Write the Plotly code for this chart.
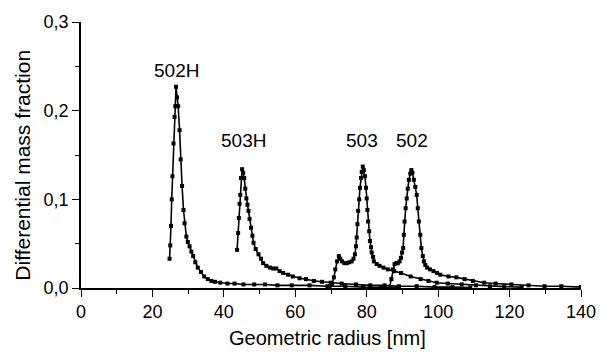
import plotly.graph_objects as go

# ---- data ----
r502H_x = [24.8, 25.0, 25.2, 25.4, 25.6,
           25.9, 26.2, 26.4, 26.6, 26.9,
           27.2, 27.6, 27.9, 28.3, 28.7,
           29.0, 29.5, 29.9, 30.4, 30.9,
           31.4, 32.0, 32.7, 33.6, 34.5,
           35.5, 36.5, 37.5, 39.0, 41.0,
           43.0, 45.5, 48.5, 51.5, 55.0,
           59.0, 64.0, 69.0, 74.0, 79.0,
           84.0, 89.0]
r502H_y = [0.033, 0.048, 0.070, 0.100, 0.126,
           0.163, 0.193, 0.205, 0.227, 0.215,
           0.205, 0.178, 0.145, 0.115, 0.088,
           0.073, 0.058, 0.052, 0.047, 0.041,
           0.036, 0.029, 0.023, 0.018, 0.013,
           0.010, 0.008, 0.007, 0.006, 0.005,
           0.005, 0.004, 0.004, 0.004, 0.003,
           0.003, 0.003, 0.002, 0.002, 0.001,
           0.001, 0.0005]

r503H_x = [43.7, 44.0, 44.2, 44.4, 44.6,
           44.8, 45.1, 45.4, 45.7, 46.0,
           46.3, 46.6, 46.9, 47.2, 47.6,
           48.0, 48.3, 48.9, 49.7, 50.4,
           51.0, 51.9, 52.9, 53.8, 54.7,
           55.6, 56.6, 58.0, 59.3, 61.2,
           63.0, 65.2, 67.5, 69.9, 73.0,
           77.0, 81.0, 85.0, 89.0, 94.0,
           99.0, 104.0, 109.0]
r503H_y = [0.043, 0.062, 0.079, 0.095, 0.105,
           0.124, 0.134, 0.130, 0.124, 0.112,
           0.101, 0.094, 0.087, 0.078, 0.068,
           0.059, 0.051, 0.044, 0.038, 0.033,
           0.028, 0.025, 0.023, 0.022, 0.022,
           0.019, 0.017, 0.015, 0.013, 0.011,
           0.010, 0.008, 0.007, 0.006, 0.005,
           0.004, 0.003, 0.003, 0.002, 0.002,
           0.001, 0.001, 0.0005]

r503_x = [69.6, 70.3, 70.8, 71.2, 71.7,
          72.2, 72.6, 73.1, 73.8, 74.4,
          75.1, 75.8, 76.3, 76.7, 77.0,
          77.2, 77.4, 77.6, 77.9, 78.1,
          78.4, 78.6, 78.9, 79.2, 79.5,
          79.8, 80.0, 80.2, 80.4, 80.7,
          80.9, 81.2, 81.4, 81.8, 82.0,
          82.8, 83.6, 84.7, 85.9, 87.7,
          89.6, 92.3, 95.1, 97.3, 99.6,
          102.7, 106.6, 110.6, 114.5, 118.5,
          123.4]
r503_y = [0.001, 0.004, 0.012, 0.021, 0.030,
          0.036, 0.033, 0.030, 0.028, 0.028,
          0.029, 0.030, 0.033, 0.038, 0.047,
          0.057, 0.072, 0.087, 0.100, 0.113,
          0.124, 0.131, 0.137, 0.133, 0.126,
          0.113, 0.101, 0.088, 0.075, 0.064,
          0.053, 0.046, 0.040, 0.035, 0.030,
          0.027, 0.025, 0.023, 0.021, 0.019,
          0.017, 0.013, 0.010, 0.008, 0.006,
          0.005, 0.004, 0.003, 0.002, 0.0015,
          0.001]

r502_x = [86.4, 86.9, 87.3, 87.8, 88.3,
          88.7, 89.2, 89.6, 89.9, 90.2,
          90.4, 90.6, 90.9, 91.2, 91.5,
          91.8, 92.2, 92.5, 92.8, 93.2,
          93.6, 94.0, 94.3, 94.6, 95.0,
          95.3, 95.7, 96.0, 96.4, 96.9,
          97.7, 98.7, 99.7, 100.6, 102.9,
          105.1, 107.4, 109.7, 112.9, 116.1,
          120.5, 125.3, 129.8, 134.5, 140.0]
r502_y = [0.001, 0.010, 0.021, 0.027, 0.028,
          0.028, 0.030, 0.034, 0.040, 0.045,
          0.060, 0.075, 0.090, 0.101, 0.112,
          0.122, 0.129, 0.133, 0.130, 0.122,
          0.114, 0.105, 0.090, 0.075, 0.060,
          0.045, 0.036, 0.030, 0.026, 0.023,
          0.021, 0.019, 0.017, 0.015, 0.013,
          0.012, 0.010, 0.008, 0.006, 0.005,
          0.004, 0.003, 0.002, 0.002, 0.001]

series_names = ["502H", "503H", "503", "502"]
label_x = [26.7, 45.4, 78.7, 92.7]
label_y = [0.245, 0.166, 0.166, 0.166]

x_tickvals = [0, 20, 40, 60, 80, 100, 120, 140]
y_tickvals = [0.0, 0.1, 0.2, 0.3]
y_ticktext = ["0,0", "0,1", "0,2", "0,3"]

FONT = "Liberation Sans, Arial, sans-serif"

fig = go.Figure()
for name, xs, ys in zip(series_names,
                        [r502H_x, r503H_x, r503_x, r502_x],
                        [r502H_y, r503H_y, r503_y, r502_y]):
    fig.add_trace(go.Scatter(
        x=xs, y=ys, mode="lines+markers", name=name,
        line=dict(color="black", width=1.6),
        marker=dict(symbol="square", size=4, color="black"),
        showlegend=False))

for name, lx, ly in zip(series_names, label_x, label_y):
    fig.add_annotation(x=lx, y=ly, xref="x", yref="y", text=name,
                       showarrow=False, font=dict(size=19, color="black", family=FONT))

fig.add_annotation(x=-0.116, y=0.46, xref="paper", yref="paper",
                   text="Differential mass fraction", textangle=-90,
                   showarrow=False, xanchor="center", yanchor="middle",
                   font=dict(size=21, color="black", family=FONT))
fig.add_annotation(x=0.493, y=-0.187, xref="paper", yref="paper",
                   text="Geometric radius [nm]",
                   showarrow=False, xanchor="center", yanchor="middle",
                   font=dict(size=20, color="black", family=FONT))

fig.update_xaxes(range=[0, 140], tickvals=x_tickvals, ticks="outside", ticklen=7,
                 tickwidth=1.3, tickcolor="black", showline=True, linecolor="black",
                 linewidth=1.5, showgrid=False, zeroline=False,
                 tickfont=dict(size=18, color="black", family=FONT),
                 minor=dict(dtick=10, tick0=0, ticks="outside", ticklen=4,
                            tickcolor="black", tickwidth=1.3, showgrid=False))
fig.update_yaxes(range=[0, 0.3], tickvals=y_tickvals, ticktext=y_ticktext,
                 ticks="outside", ticklen=7, tickwidth=1.3, tickcolor="black",
                 showline=True, linecolor="black", linewidth=1.5, showgrid=False,
                 zeroline=False, tickfont=dict(size=18, color="black", family=FONT),
                 minor=dict(dtick=0.05, tick0=0, ticks="outside", ticklen=4,
                            tickcolor="black", tickwidth=1.3, showgrid=False))

fig.update_layout(width=608, height=352, plot_bgcolor="white", paper_bgcolor="white",
                  margin=dict(l=81, r=18, t=21, b=64),
                  font=dict(family=FONT, color="black"))

fig.write_html("out.html")
